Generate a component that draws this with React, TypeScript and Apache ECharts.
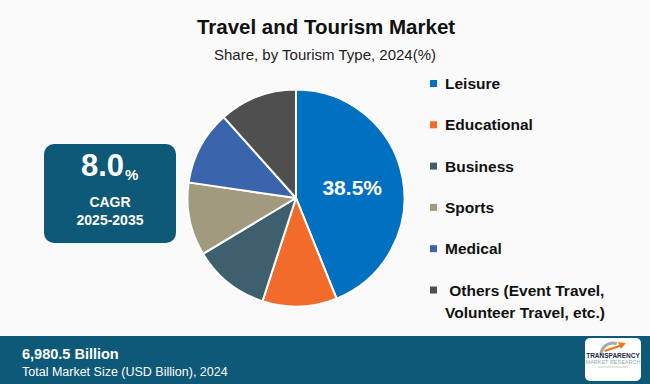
import React, { useEffect, useRef } from "react";
import * as echarts from "echarts";

const categories = ["Leisure", "Educational", "Business", "Sports", "Medical", "Others"];
const legendLabels = [
  "Leisure",
  "Educational",
  "Business",
  "Sports",
  "Medical",
  " Others (Event Travel,\nVolunteer Travel, etc.)",
];
const shareValues = [43.9, 11.1, 11.4, 10.9, 11.1, 11.6];
const sliceLabels = ["38.5%", "", "", "", "", ""];
const sliceColors = ["#0070C0", "#F26B2B", "#3D5F6E", "#A29A7E", "#3A64AC", "#4F4F4F"];

const titleText = "Travel and Tourism Market";
const subtitleText = "Share, by Tourism Type, 2024(%)";
const cagrValue = "8.0";
const cagrLabel = "CAGR";
const cagrPeriod = "2025-2035";
const marketSize = "6,980.5 Billion";
const marketSizeLabel = "Total Market Size (USD Billion), 2024";

const FONT = "'Liberation Sans', Arial, sans-serif";
const TEAL = "#0E5878";

export default function App() {
  const ref = useRef<HTMLDivElement>(null);
  useEffect(() => {
    if (!ref.current) return;
    const chart = echarts.init(ref.current, null, { renderer: "svg" });

    const legendGraphics: any[] = [];
    categories.forEach((c, i) => {
      const yc = 83.5 + i * 41.3;
      legendGraphics.push({
        type: "rect",
        shape: { x: 430, y: yc - 3.5, width: 7, height: 7 },
        style: { fill: sliceColors[i] },
      });
      const multi = legendLabels[i].includes("\n");
      legendGraphics.push({
        type: "text",
        x: 445,
        y: multi ? yc - 11 : yc,
        style: {
          text: legendLabels[i],
          font: `bold 15.5px ${FONT}`,
          fill: "#111111",
          verticalAlign: multi ? "top" : "middle",
          lineHeight: 22.5,
        },
      });
    });

    chart.setOption({
      animation: false,
      backgroundColor: "#FAFAFA",
      title: [
        {
          text: titleText,
          left: 321,
          top: 11,
          textAlign: "center",
          textStyle: { fontFamily: FONT, fontSize: 20.5, fontWeight: "bold", color: "#111111" },
        },
        {
          text: subtitleText,
          left: 320,
          top: 42,
          textAlign: "center",
          textStyle: { fontFamily: FONT, fontSize: 15, fontWeight: "normal", color: "#222222" },
        },
      ],
      series: [
        {
          type: "pie",
          center: [296, 198],
          radius: [0, 108.5],
          startAngle: 90,
          clockwise: true,
          avoidLabelOverlap: false,
          itemStyle: { borderColor: "#FFFFFF", borderWidth: 2 },
          label: {
            show: true,
            position: "inside",
            color: "#FFFFFF",
            fontFamily: FONT,
            fontWeight: "bold",
            fontSize: 21,
            formatter: (p: any) => sliceLabels[p.dataIndex],
          },
          labelLine: { show: false },
          emphasis: { disabled: true },
          data: categories.map((c, i) => ({
            name: c,
            value: shareValues[i],
            itemStyle: { color: sliceColors[i] },
          })),
        },
      ],
      graphic: [
        // CAGR box
        {
          type: "rect",
          shape: { x: 44, y: 144, width: 132, height: 99, r: 10 },
          style: { fill: TEAL },
        },
        {
          type: "text",
          x: 124,
          y: 181,
          style: {
            text: cagrValue,
            font: `bold 31px ${FONT}`,
            fill: "#FFFFFF",
            align: "right",
            verticalAlign: "bottom",
          },
        },
        {
          type: "text",
          x: 125,
          y: 182,
          style: {
            text: "%",
            font: `bold 15px ${FONT}`,
            fill: "#FFFFFF",
            align: "left",
            verticalAlign: "bottom",
          },
        },
        {
          type: "text",
          x: 110,
          y: 202,
          style: {
            text: cagrLabel,
            font: `bold 14px ${FONT}`,
            fill: "#FFFFFF",
            align: "center",
            verticalAlign: "middle",
          },
        },
        {
          type: "text",
          x: 110,
          y: 219.5,
          style: {
            text: cagrPeriod,
            font: `bold 14px ${FONT}`,
            fill: "#FFFFFF",
            align: "center",
            verticalAlign: "middle",
          },
        },
        // Legend
        ...legendGraphics,
        // Footer band
        {
          type: "rect",
          shape: { x: 0, y: 336, width: 650, height: 48 },
          style: { fill: TEAL },
        },
        {
          type: "text",
          x: 22,
          y: 354,
          style: {
            text: marketSize,
            font: `bold 14.5px ${FONT}`,
            fill: "#FFFFFF",
            verticalAlign: "middle",
          },
        },
        {
          type: "text",
          x: 22,
          y: 371.5,
          style: {
            text: marketSizeLabel,
            font: `12.5px ${FONT}`,
            fill: "#FFFFFF",
            verticalAlign: "middle",
          },
        },
        // Logo
        {
          type: "rect",
          shape: { x: 585, y: 338, width: 56, height: 43, r: 5 },
          style: { fill: "#FFFFFF" },
        },
        {
          type: "arc",
          shape: { cx: 613, cy: 355, r: 12, startAngle: Math.PI * 1.0, endAngle: Math.PI * 1.6 },
          style: { stroke: "#A8A8A8", lineWidth: 3, fill: "none" },
        },
        {
          type: "polygon",
          shape: {
            points: [
              [604, 350],
              [619, 345],
              [618, 342],
              [626, 343],
              [621, 349],
              [620, 347],
              [605, 352],
            ],
          },
          style: { fill: "#F07A22" },
        },
        {
          type: "text",
          x: 613,
          y: 355,
          style: {
            text: "TRANSPARENCY",
            font: `bold 6.5px ${FONT}`,
            fill: "#1B2B4A",
            align: "center",
            verticalAlign: "middle",
          },
        },
        {
          type: "text",
          x: 613,
          y: 362,
          style: {
            text: "MARKET RESEARCH",
            font: `5.5px ${FONT}`,
            fill: "#8FB0A0",
            align: "center",
            verticalAlign: "middle",
          },
        },
        {
          type: "rect",
          shape: { x: 598, y: 366.5, width: 30, height: 1 },
          style: { fill: "#C8C8C8" },
        },
      ],
    });
    return () => chart.dispose();
  }, []);
  return (
    <div
      ref={ref}
      style={{ position: "fixed", left: 0, top: 0, width: 650, height: 384 }}
    />
  );
}
